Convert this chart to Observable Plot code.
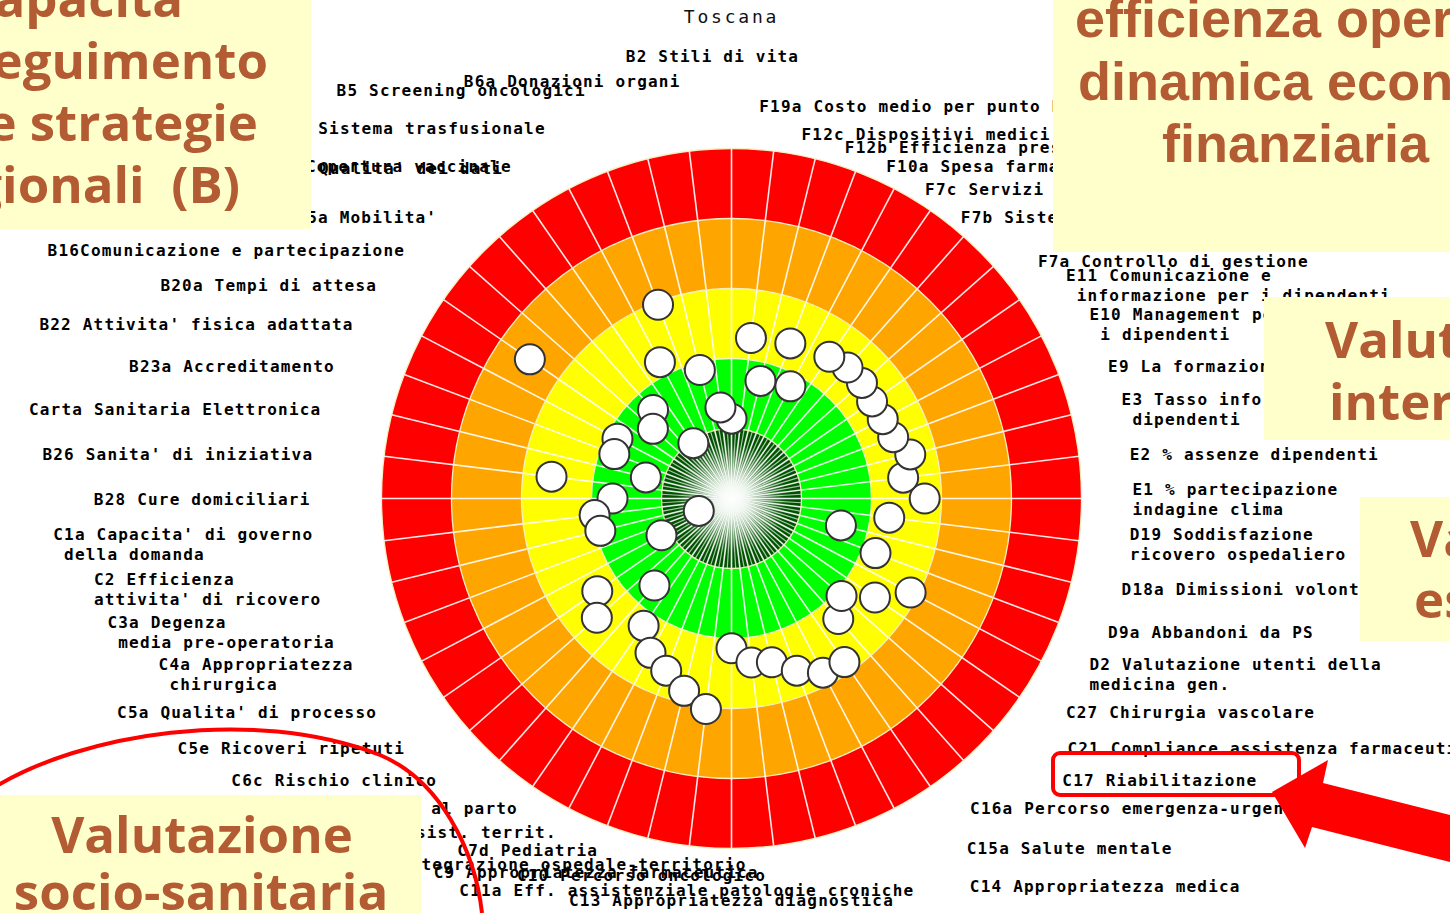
<!DOCTYPE html>
<html><head><meta charset="utf-8">
<script src="https://cdn.jsdelivr.net/npm/d3@7"></script>
<script src="https://cdn.jsdelivr.net/npm/@observablehq/plot@0.6"></script>
<style>html,body{margin:0;padding:0;background:#fff;overflow:hidden}</style>
</head><body><div id="chart"></div>
<script>
// ---------------- DATA ----------------
const title = "Toscana";
const indicators = [
  "B2 Stili di vita",
  "B6a Donazioni organi",
  "B5 Screening oncologici",
  "B6b Sistema trasfusionale",
  "B7 Copertura vaccinale",
  "B4 Qualita' dei dati",
  "B15a Mobilita'",
  "B16Comunicazione e partecipazione",
  "B20a Tempi di attesa",
  "B22 Attivita' fisica adattata",
  "B23a Accreditamento",
  "Carta Sanitaria Elettronica",
  "B26 Sanita' di iniziativa",
  "B28 Cure domiciliari",
  "C1a Capacita' di governo\n della domanda",
  "C2 Efficienza\nattivita' di ricovero",
  "C3a Degenza\n media pre-operatoria",
  "C4a Appropriatezza\n chirurgica",
  "C5a Qualita' di processo",
  "C5e Ricoveri ripetuti",
  "C6c Rischio clinico",
  "C7b Assistenza al parto",
  "C7c Materno inf. assist. territ.",
  "C7d Pediatria",
  "C8a Integrazione ospedale-territorio",
  "C9 Appropriatezza farmaceutica",
  "C10 Percorso oncologico",
  "C11a Eff. assistenziale patologie croniche",
  "C13 Appropriatezza diagnostica",
  "C14 Appropriatezza medica",
  "C15a Salute mentale",
  "C16a Percorso emergenza-urgenza",
  "C17 Riabilitazione",
  "C21 Compliance assistenza farmaceutica",
  "C27 Chirurgia vascolare",
  "D2 Valutazione utenti della\nmedicina gen.",
  "D9a Abbandoni da PS",
  "D18a Dimissioni volontarie",
  "D19 Soddisfazione\nricovero ospedaliero",
  "E1 % partecipazione\nindagine clima",
  "E2 % assenze dipendenti",
  "E3 Tasso infortuni\n dipendenti",
  "E9 La formazione",
  "E10 Management per\n i dipendenti",
  "E11 Comunicazione e\n informazione per i dipendenti",
  "F7a Controllo di gestione",
  "F7b Sistemi di valutazione",
  "F7c Servizi amministrativi",
  "F10a Spesa farmaceutica",
  "F12b Efficienza prescrittiva",
  "F12c Dispositivi medici",
  "F19a Costo medio per punto DRG"
];
// performance score 0 (outer, red) .. 5 (centre, dark green)
const scores = [
  3.86, 3.69, 3.11, 2.04, 2.80, 4.04, 3.31, 3.50, 1.50, 3.16,
  3.21, 3.74, 2.41, 3.30, 3.03, 3.07, 4.50, 3.87, 2.67, 2.43,
  3.34, 2.79, 2.51, 2.37, 2.17, 1.97, 2.86, 2.64, 2.59, 2.37,
  2.19, 2.16, 2.70, 2.90, 2.51, 2.11, 2.80, 3.39, 2.73, 2.24,
  2.53, 2.37, 2.53, 2.56, 2.56, 2.51, 2.50, 2.54, 3.19, 2.63,
  3.27, 2.69
];
const ringOuter = [5, 4, 3, 2, 1];
const ringColors = ["#ff0000", "#ffa500", "#ffff00", "#00ff00", "#005200"];

const boxLeftLines = ["Capacità", "perseguimento", "delle strategie", "regionali  (B)"];
const boxTopRightLines = ["efficienza operativa e", "dinamica economico", "finanziaria"];
const boxInternaLines = ["Valutazione", "interna"];
const boxEsternaLines = ["Valutazione", "esterna"];
const boxSocioLines = ["Valutazione", "socio-sanitaria"];

// ---------------- LAYOUT ----------------
const W = 1450, H = 913, cx = 731, cy = 498, unit = 70;
const N = indicators.length;
const ang = i => i * 2 * Math.PI / N;
const fontSize = 16, spacing = 1.2;
const pitch = fontSize * 0.60205 + spacing;
const clamp01 = v => Math.max(0, Math.min(1, v));

const dots = indicators.map((name, i) => ({name, i, score: scores[i]}));
const rings = ringOuter.map((outer, k) => ({outer, color: ringColors[k]}));

// label placement rules (derived from angle and text length)
const labels = indicators.map((text, i) => {
  const a = ang(i), s = Math.sin(a), c = Math.cos(a);
  const lines = text.split("\n");
  const w = d3.max(lines, l => l.length) * pitch;
  let L = 376;
  if (s >= -0.01) L += c > 0.999 ? 67 : c > 0.95 ? 45 : c > 0.9 ? 21 : (c > 0.8 && c < 0.85) ? 26 : 0;
  else if (c > 0.98) L += 20;
  const X = cx - L * s;
  let Y = cy - L * c;
  let X0;
  if (c < -0.95) {                       // bottom
    X0 = X - 90 - w / 2;
    if (s < 0) Y += -s * 150;
  } else if (Math.abs(s) < 0.01) {       // top
    X0 = X - w / 2 - 19;
  } else if (s > 0) {                    // left side
    let gap = c < -0.8 ? 0 : 45 * clamp01((s - 0.12) / 0.1);
    if (c > 0.8 && c < 0.85) gap = 0;
    X0 = X - gap - w;
  } else {                               // right side
    let gap = c > 0.7 ? -20 : 25 + 57 * clamp01((-c - 0.57) / 0.18);
    if (c < -0.8) gap = 25;
    if (c < -0.85) { const t = clamp01((-c - 0.85) / 0.08); Y += 36 * t; gap += 80 * t; }
    if (c > 0.6 && c < 0.7) Y += 11;
    X0 = X + gap;
  }
  return {text, x: (X0 - cx) / unit, y: (cy - Y) / unit};
});

const chart = Plot.plot({
  width: W, height: H, margin: 0,
  x: {domain: [-cx / unit, (W - cx) / unit], axis: null},
  y: {domain: [(cy - H) / unit, cy / unit], axis: null},
  r: {type: "linear", domain: [0, 5], range: [0, 5 * unit]},
  color: {type: "identity"},
  style: {background: "white"},
  marks: [
    Plot.dot(rings, {x: () => 0, y: () => 0, r: "outer", fill: "color", stroke: "none"}),
    Plot.link(d3.range(N), {x1: () => 0, y1: () => 0,
      x2: i => -5 * Math.sin(ang(i)), y2: i => 5 * Math.cos(ang(i)),
      stroke: "white", strokeWidth: 1.6, strokeOpacity: 0.9}),
    Plot.link(d3.range(N), {x1: () => 0, y1: () => 0,
      x2: i => -1 * Math.sin(ang(i + 0.5)), y2: i => 1 * Math.cos(ang(i + 0.5)),
      stroke: "#cfe8cf", strokeWidth: 1.2, strokeOpacity: 0.8}),
    Plot.dot(rings, {x: () => 0, y: () => 0, r: "outer", fill: "none", stroke: "#f4f0c4", strokeWidth: 1.3}),
    Plot.dot([0], {x: () => 0, y: () => 0, r: 55, fill: "url(#glow)", stroke: "none"}),
    Plot.dot(dots, {
      x: d => -(5 - d.score) * Math.sin(ang(d.i)),
      y: d => (5 - d.score) * Math.cos(ang(d.i)),
      r: 15, fill: "white", stroke: "#333", strokeWidth: 2
    }),
    Plot.text(labels, {x: "x", y: "y", text: "text", textAnchor: "start", lineAnchor: "middle",
      lineHeight: 20 / fontSize, fontFamily: "DejaVu Sans Mono", fontSize, fontWeight: "bold", fill: "#000"}),
    Plot.text([title], {frameAnchor: "top", dy: 17, dx: 6, lineAnchor: "middle",
      fontFamily: "DejaVu Sans Mono", fontSize: 18, fill: "#111"})
  ]
});
document.getElementById("chart").appendChild(chart);

const svg = d3.select(chart);
const textGroups = svg.selectAll('g[aria-label="text"]').nodes();
d3.select(textGroups[0]).attr("letter-spacing", spacing + "px");
d3.select(textGroups[1]).attr("letter-spacing", "2.8px");

const grad = svg.insert("defs", ":first-child").append("radialGradient").attr("id", "glow");
grad.append("stop").attr("offset", "0%").attr("stop-color", "#fff").attr("stop-opacity", 1);
grad.append("stop").attr("offset", "35%").attr("stop-color", "#fff").attr("stop-opacity", 0.6);
grad.append("stop").attr("offset", "100%").attr("stop-color", "#fff").attr("stop-opacity", 0);

// ---------------- ANNOTATIONS ----------------
const ann = svg.append("g");
ann.append("path").attr("d", "M -5,787 C 80,735 250,705 380,755 C 440,780 475,850 482,913")
  .attr("fill", "none").attr("stroke", "#ff0000").attr("stroke-width", 4);

const boxFill = "#ffffcc", brown = "#b35c33";
[[0, 0, 311, 229], [1053, 0, 397, 252], [1264, 297, 186, 143], [1360, 497, 90, 144], [0, 795, 421, 118]]
  .forEach(([x, y, w, h]) => ann.append("rect").attr("x", x).attr("y", y).attr("width", w).attr("height", h).attr("fill", boxFill));

function boxText(lines, xs, ys, anchor, family, size) {
  lines.forEach((t, k) => ann.append("text").text(t)
    .attr("x", xs[k]).attr("y", ys[k]).attr("text-anchor", anchor)
    .attr("font-family", family).attr("font-weight", 700).attr("font-size", size).attr("fill", brown));
}
boxText(boxLeftLines, [183, 268, 258, 240], [17, 79, 141, 203], "end", "Open Sans", 51);
boxText(boxTopRightLines, [1075, 1078, 1162], [37, 100, 162], "start", "Liberation Sans", 54);
boxText(boxInternaLines, [1325, 1329], [358, 420], "start", "Open Sans", 51);
boxText(boxEsternaLines, [1410, 1414], [557, 618], "start", "Open Sans", 51);
boxText(boxSocioLines, [202, 201], [853, 910], "middle", "Open Sans", 51);

ann.append("rect").attr("x", 1053).attr("y", 753).attr("width", 246).attr("height", 42).attr("rx", 7)
  .attr("fill", "none").attr("stroke", "#ff0000").attr("stroke-width", 4);
ann.append("polygon").attr("points", "1272,792 1328,760 1323,783 1450,815 1450,862 1312,827 1305,848")
  .attr("fill", "#ff0000");
</script></body></html>
